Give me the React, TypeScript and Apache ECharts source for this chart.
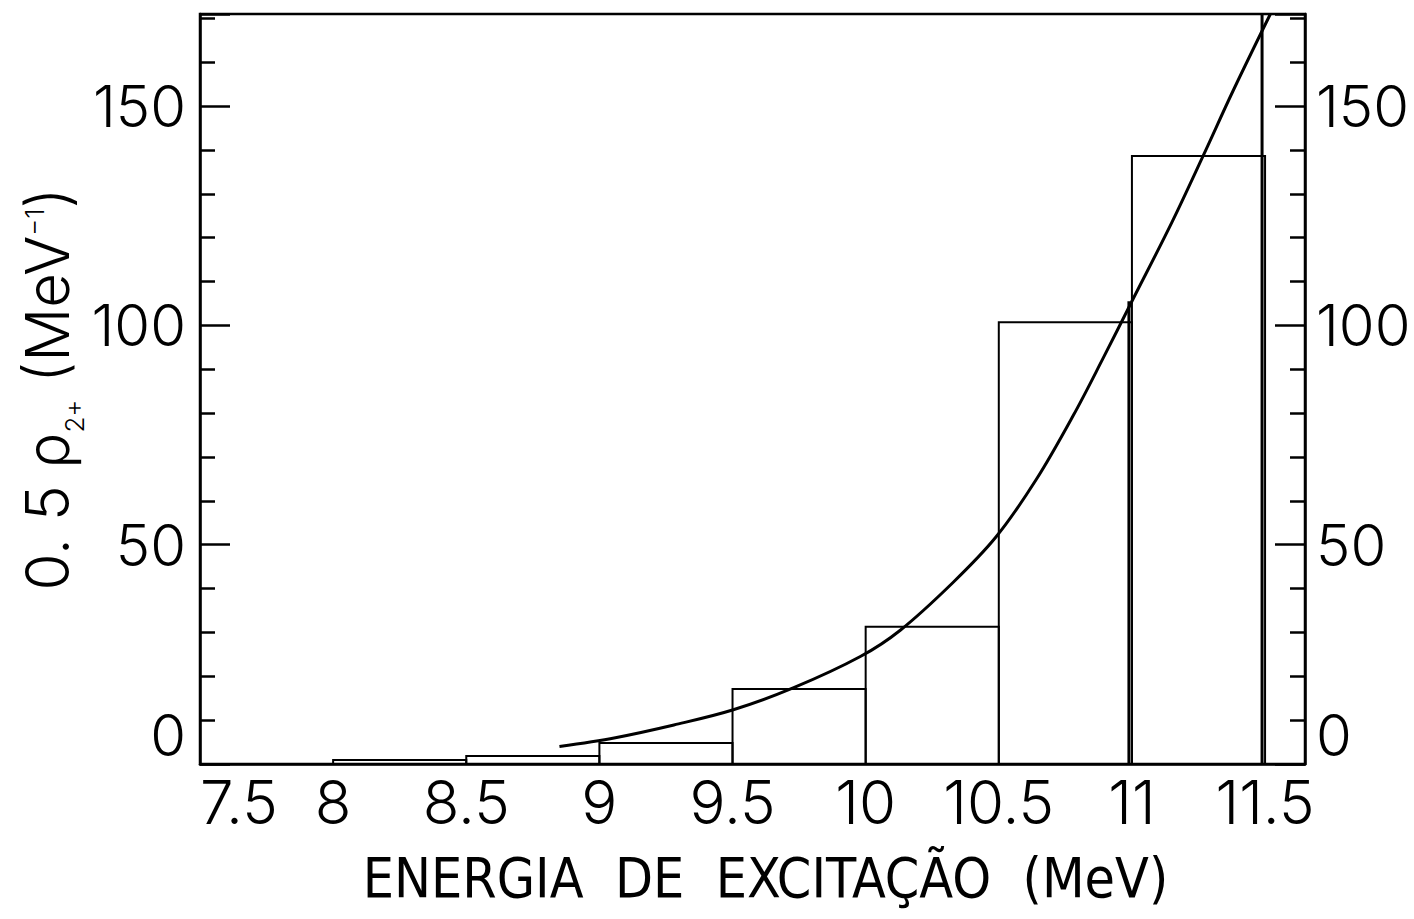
import React, { useEffect, useRef } from "react";
import * as echarts from "echarts";

// Histogram bins of the 2+ level density (MeV)
const binEdges = [7.5, 8, 8.5, 9, 9.5, 10, 10.5, 11, 11.5];
const binValues = [0, 0.9, 1.8, 4.8, 17.1, 31.3, 100.7, 138.6];

// Smooth level-density curve
const curveEnergy = [8.85, 9.06, 9.28, 9.5, 9.73, 9.98, 10.13, 10.33, 10.49, 10.64, 10.78, 10.89, 11.0, 11.15, 11.27, 11.38, 11.52];
const curveDensity = [4.0, 6.0, 8.9, 12.3, 17.4, 24.5, 30.5, 41.5, 51.8, 64.8, 79.5, 92.3, 105.5, 123.5, 139, 153.5, 171];

// Vertical drop lines from the curve to the baseline
const dropEnergy = [11.0, 11.5];
const dropDensity = [105.5, 171];

const yAxisTicks = { min: 0, max: 171, interval: 50 };
const xAxisTicks = { min: 7.5, max: 11.65, interval: 0.5 };

const FONT = "Inter, 'Open Sans', Lato, Roboto, sans-serif";
const NARROW = "'Liberation Sans Narrow', 'DejaVu Sans Condensed', 'Liberation Sans', sans-serif";

export default function App() {
  const ref = useRef<HTMLDivElement>(null);

  useEffect(() => {
    if (!ref.current) return;
    const chart = echarts.init(ref.current, undefined, { renderer: "svg" });

    const histData = binValues.map((v, i) => [binEdges[i], binEdges[i + 1], v]);
    const curveData = curveEnergy.map((e, i) => [e, curveDensity[i]]);
    const dropData = dropEnergy.map((e, i) => [e, dropDensity[i]]);

    const labelStyle = {
      fontFamily: FONT,
      fontWeight: 300 as any,
      fontSize: 58,
      color: "#000",
    };

    const yCommon = {
      type: "value" as const,
      min: yAxisTicks.min,
      max: yAxisTicks.max,
      interval: yAxisTicks.interval,
      splitLine: { show: false },
      axisLine: { show: true, lineStyle: { color: "#000", width: 2.5 } },
      axisTick: { show: true, inside: true, length: 30, lineStyle: { color: "#000", width: 2.5 } },
      minorTick: { show: true, splitNumber: 5, length: 15, lineStyle: { color: "#000", width: 2.5 } },
      minorSplitLine: { show: false },
    };

    chart.setOption({
      animation: false,
      backgroundColor: "#fff",
      grid: {
        left: 200,
        right: 109,
        top: 14,
        bottom: 155,
        containLabel: false,
        outerBoundsMode: "none",
        show: true,
        borderColor: "#000",
        borderWidth: 2.5,
        backgroundColor: "transparent",
      },
      xAxis: {
        type: "value",
        min: xAxisTicks.min,
        max: xAxisTicks.max,
        interval: xAxisTicks.interval,
        splitLine: { show: false },
        axisLine: { show: true, onZero: false, lineStyle: { color: "#000", width: 2.5 } },
        axisTick: { show: false },
        axisLabel: {
          ...labelStyle,
          fontSize: 60,
          margin: 8,
          showMaxLabel: false,
          alignMinLabel: "left",
        },
        name: "ENERGIA  DE  EXCITAÇÃO  (MeV)",
        nameLocation: "middle",
        nameGap: 86,
        nameMoveOverlap: false,
        nameTextStyle: {
          fontFamily: NARROW,
          fontSize: 55,
          fontWeight: "normal",
          color: "#000",
          padding: [0, 0, 0, 26],
        },
      },
      yAxis: [
        {
          ...yCommon,
          position: "left",
          axisLabel: {
            ...labelStyle,
            margin: 14,
            showMaxLabel: false,
            verticalAlignMinLabel: "bottom",
          },
          name: "{t|0. 5 ρ}{s|2+}{t| (MeV}{p|−1}{t|)}",
          nameLocation: "middle",
          nameRotate: 90,
          nameGap: 123,
          nameMoveOverlap: false,
          nameTextStyle: {
            ...labelStyle,
            fontSize: 60,
            rich: {
              t: { fontFamily: FONT, fontWeight: 300, fontSize: 60, color: "#000" },
              s: { fontFamily: FONT, fontWeight: 300, fontSize: 26, color: "#000", verticalAlign: "bottom", padding: [0, 0, -10, 0] },
              p: { fontFamily: FONT, fontWeight: 300, fontSize: 26, color: "#000", verticalAlign: "top", padding: [4, 0, 0, 0] },
            },
          },
        },
        {
          ...yCommon,
          position: "right",
          axisLabel: {
            ...labelStyle,
            margin: 11,
            showMaxLabel: false,
            verticalAlignMinLabel: "bottom",
          },
        },
      ],
      series: [
        {
          type: "custom",
          name: "histograma",
          xAxisIndex: 0,
          yAxisIndex: 0,
          data: histData,
          encode: { x: [0, 1], y: 2 },
          renderItem: (params: any, api: any) => {
            const top = api.coord([api.value(0), api.value(2)]);
            const bottom = api.coord([api.value(1), 0]);
            return {
              type: "rect",
              shape: {
                x: top[0],
                y: top[1],
                width: bottom[0] - top[0],
                height: bottom[1] - top[1],
              },
              style: { fill: "none", stroke: "#000", lineWidth: 2 },
            };
          },
          silent: true,
        },
        {
          type: "custom",
          name: "corte",
          xAxisIndex: 0,
          yAxisIndex: 0,
          data: dropData,
          encode: { x: 0, y: 1 },
          renderItem: (params: any, api: any) => {
            const top = api.coord([api.value(0), api.value(1)]);
            const bottom = api.coord([api.value(0), 0]);
            return {
              type: "line",
              shape: { x1: top[0] - 3, y1: top[1], x2: bottom[0] - 3, y2: bottom[1] },
              style: { stroke: "#000", lineWidth: 3 },
            };
          },
          silent: true,
        },
        {
          type: "line",
          name: "curva",
          xAxisIndex: 0,
          yAxisIndex: 0,
          data: curveData,
          smooth: 0.35,
          showSymbol: false,
          lineStyle: { color: "#000", width: 3 },
          silent: true,
        },
      ],
    });

    return () => chart.dispose();
  }, []);

  return (
    <div
      ref={ref}
      style={{ position: "fixed", left: 0, top: 0, width: 1414, height: 919, background: "#fff" }}
    />
  );
}
